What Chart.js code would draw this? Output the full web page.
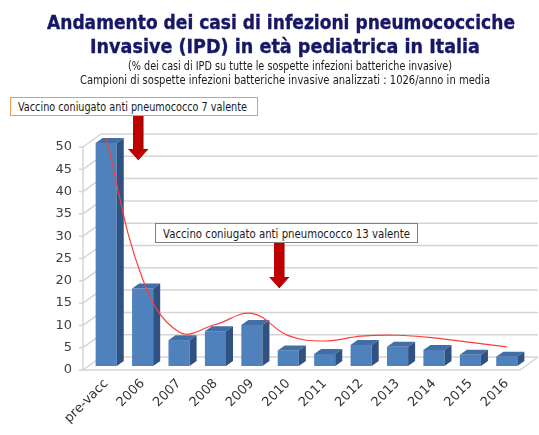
<!DOCTYPE html>
<html>
<head>
<meta charset="utf-8">
<script src="https://cdn.jsdelivr.net/npm/chart.js@4.4.1/dist/chart.umd.min.js"></script>
<style>
  html, body { margin: 0; padding: 0; background: #fff; }
  #wrap { position: relative; width: 539px; height: 435px; overflow: hidden; }
  canvas { position: absolute; left: 0; top: 0; }
  .txt { position: absolute; white-space: nowrap; transform-origin: 0 0; font-family: "DejaVu Sans", sans-serif; }
  .title { font-weight: bold; font-size: 20px; line-height: 20px; color: #171766; -webkit-text-stroke: 0.4px #171766; }
  .sub { font-size: 12px; line-height: 12px; color: #1a1a1a; }
  .box { position: absolute; background: #fff; box-sizing: border-box; }
</style>
</head>
<body>
<div id="wrap">
  <canvas id="chart" width="539" height="435"></canvas>
  <div class="txt title" data-x="47" data-w="468" style="top:12px">Andamento dei casi di infezioni pneumococciche</div>
  <div class="txt title" data-x="90" data-w="390" style="top:36px">Invasive (IPD) in età pediatrica in Italia</div>
  <div class="txt sub" data-x="128" data-w="324" style="top:60px">(% dei casi di IPD su tutte le sospette infezioni batteriche invasive)</div>
  <div class="txt sub" data-x="80" data-w="410" style="top:74px">Campioni di sospette infezioni batteriche invasive analizzati : 1026/anno in media</div>
  <div class="box" style="left:10px;top:97px;width:248px;height:19px;border:1px solid #f79646"></div>
  <div class="txt sub" data-x="18" data-w="229" style="top:101px">Vaccino coniugato anti pneumococco 7 valente</div>
  <div class="box" style="left:155px;top:223px;width:263px;height:20px;border:1px solid #7f7f7f"></div>
  <div class="txt sub" data-x="163" data-w="247" style="top:228px">Vaccino coniugato anti pneumococco 13 valente</div>
</div>
<script>
const categories = ["pre-vacc", "2006", "2007", "2008", "2009", "2010", "2011", "2012", "2013", "2014", "2015", "2016"];
const ipdPercent = [50, 17.4, 5.8, 7.8, 9.2, 3.5, 2.7, 4.7, 4.3, 3.6, 2.5, 2.1];
const trendValues = [51, 19.5, 7.6, 9.3, 11.8, 6.8, 5.6, 6.7, 6.9, 6.3, 5.3, 4.3];
const yTicks = [0, 5, 10, 15, 20, 25, 30, 35, 40, 45, 50];

const BAR_FRONT = "#4f81bd";
const BAR_TOP = "#416ea6";
const BAR_SIDE = "#2f5282";
const GRID = "#d4d4d4";

// fake 3D: walls and floor sit a bit in front of / behind the bar plane
const FRONT_DX = -5, FRONT_DY = 4;
const WALL_DX = 18, WALL_DY = 13;
const BAR_DX = 7, BAR_DY = 5;

document.querySelectorAll(".txt").forEach((el) => {
  el.style.left = el.dataset.x + "px";
  const w = el.getBoundingClientRect().width;
  el.style.transform = `scaleX(${el.dataset.w / w})`;
});

function line(ctx, x1, y1, x2, y2) {
  ctx.beginPath();
  ctx.moveTo(x1, y1);
  ctx.lineTo(x2, y2);
  ctx.stroke();
}

function poly(ctx, pts, color) {
  ctx.beginPath();
  ctx.moveTo(pts[0][0], pts[0][1]);
  pts.slice(1).forEach((p) => ctx.lineTo(p[0], p[1]));
  ctx.closePath();
  ctx.fillStyle = color;
  ctx.fill();
}

function drawArrow(ctx, cx, y1, y2) {
  const headLen = 11;
  poly(ctx, [
    [cx - 5, y1], [cx + 5, y1], [cx + 5, y2 - headLen], [cx + 10, y2 - headLen],
    [cx, y2], [cx - 10, y2 - headLen], [cx - 5, y2 - headLen],
  ], "#c00000");
  ctx.strokeStyle = "#8c0000";
  ctx.lineWidth = 1;
  line(ctx, cx + 5, y1, cx + 5, y2 - headLen);
  line(ctx, cx + 10, y2 - headLen, cx, y2);
}

const box3d = {
  id: "box3d",
  beforeDatasetsDraw(chart) {
    const { ctx, chartArea, scales: { y } } = chart;
    const left = chartArea.left + FRONT_DX;
    const right = chartArea.right + FRONT_DX;
    const floor = y.getPixelForValue(0) + FRONT_DY;
    ctx.save();
    ctx.strokeStyle = GRID;
    ctx.lineWidth = 1.5;
    y.ticks.forEach((t) => {
      const py = y.getPixelForValue(t.value) + FRONT_DY;
      line(ctx, left + WALL_DX, py - WALL_DY, right + WALL_DX, py - WALL_DY);
      line(ctx, left, py, left + WALL_DX, py - WALL_DY);
      line(ctx, left - 4, py, left, py);
    });
    line(ctx, left, y.getPixelForValue(50) + FRONT_DY, left, floor);
    line(ctx, left, floor, right, floor);
    line(ctx, right, floor, right + WALL_DX, floor - WALL_DY);
    ctx.restore();
  },
  afterDatasetDraw(chart, args) {
    if (args.index !== 0) return;
    const ctx = chart.ctx;
    ctx.save();
    args.meta.data.forEach((bar) => {
      const { x, y, base, width } = bar.getProps(["x", "y", "base", "width"], true);
      const l = x - width / 2;
      const r = x + width / 2;
      poly(ctx, [[l, y], [l + BAR_DX, y - BAR_DY], [r + BAR_DX, y - BAR_DY], [r, y]], BAR_TOP);
      poly(ctx, [[r, y], [r + BAR_DX, y - BAR_DY], [r + BAR_DX, base - BAR_DY], [r, base]], BAR_SIDE);
    });
    ctx.restore();
  },
  afterDraw(chart) {
    const ctx = chart.ctx;
    ctx.save();
    drawArrow(ctx, 138, 116, 160);
    drawArrow(ctx, 279, 243, 288);
    ctx.restore();
  },
};

Chart.defaults.font.family = "'DejaVu Sans', sans-serif";

new Chart(document.getElementById("chart"), {
  data: {
    labels: categories,
    datasets: [
      {
        type: "bar",
        data: ipdPercent,
        backgroundColor: BAR_FRONT,
        borderWidth: 0,
        barPercentage: 0.58,
        categoryPercentage: 1,
        order: 1,
      },
      {
        type: "line",
        data: trendValues,
        borderColor: "#ff3b3b",
        borderWidth: 1.2,
        pointRadius: 0,
        tension: 0.4,
        clip: false,
        order: 0,
      },
    ],
  },
  options: {
    responsive: false,
    animation: false,
    devicePixelRatio: 1,
    layout: { padding: { top: 143, right: 14, bottom: 0, left: 0 } },
    plugins: { legend: { display: false }, tooltip: { enabled: false } },
    scales: {
      x: {
        grid: { display: false, drawTicks: false },
        border: { display: false },
        ticks: {
          autoSkip: false,
          minRotation: 45,
          maxRotation: 45,
          padding: 10,
          color: "#333",
          font: { size: 13 },
        },
        afterFit: (scale) => { scale.height = 69; },
      },
      y: {
        min: 0,
        max: 50,
        afterBuildTicks: (scale) => { scale.ticks = yTicks.map((v) => ({ value: v })); },
        grid: { display: false, drawTicks: false },
        border: { display: false },
        ticks: {
          padding: 16,
          labelOffset: 4,
          color: "#404040",
          font: { size: 13 },
        },
        afterFit: (scale) => { scale.width = 88; },
      },
    },
  },
  plugins: [box3d],
});
</script>
</body>
</html>
